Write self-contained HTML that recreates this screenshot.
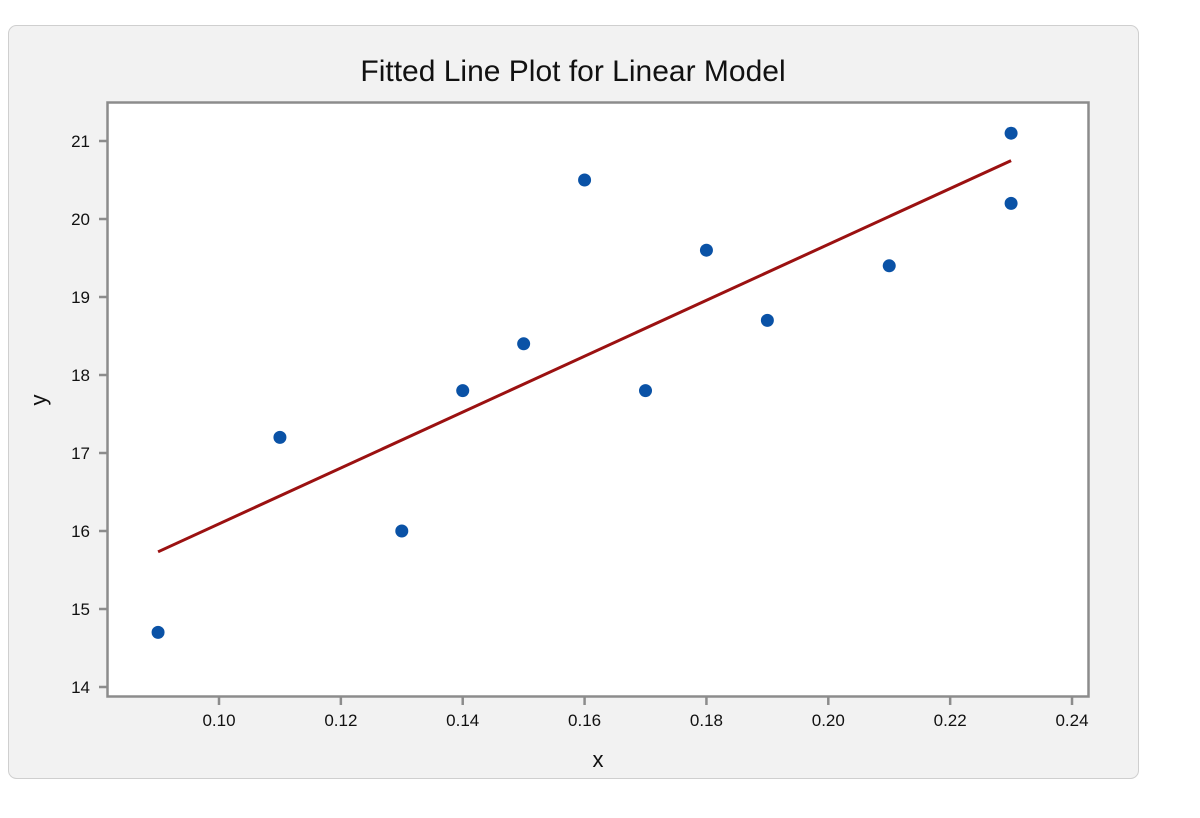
<!DOCTYPE html>
<html><head><meta charset="utf-8"><style>
html,body{margin:0;padding:0;background:#fff;width:1200px;height:818px;overflow:hidden}
svg text{font-family:"Liberation Sans",Arial,sans-serif;fill:#111}
</style></head><body>
<svg width="1200" height="818" xmlns="http://www.w3.org/2000/svg">
<rect x="8.5" y="25.5" width="1130" height="753" rx="8" fill="#f2f2f2" stroke="#cfcfcf"/>
<text x="573" y="81" font-size="30" text-anchor="middle">Fitted Line Plot for Linear Model</text>
<rect x="107.5" y="102.5" width="981" height="594" fill="#fff" stroke="#8c8c8c" stroke-width="2.5"/>
<g id="xt"></g>
<g id="yt"></g>
<g id="fit"></g>
<g id="pts"></g>
<text x="598" y="767" font-size="22" text-anchor="middle">x</text>
<text x="46" y="400" font-size="22" text-anchor="middle" transform="rotate(-90 46 400)">y</text>
</svg>
<script>
const xValues=[0.09,0.11,0.13,0.14,0.15,0.16,0.17,0.18,0.19,0.21,0.23,0.23];
const yValues=[14.7,17.2,16.0,17.8,18.4,20.5,17.8,19.6,18.7,19.4,21.1,20.2];
const xTicks=[0.10,0.12,0.14,0.16,0.18,0.20,0.22,0.24];
const yTicks=[14,15,16,17,18,19,20,21];
const NS="http://www.w3.org/2000/svg";
function sx(v){return 219+(v-0.10)/0.02*121.86;}
function sy(v){return 687-(v-14)*78;}
function mk(t,a,p){const e=document.createElementNS(NS,t);for(const k in a)e.setAttribute(k,a[k]);p.appendChild(e);return e;}
const xt=document.getElementById('xt'),yt=document.getElementById('yt');
xTicks.forEach(v=>{
 const l=mk('line',{x1:sx(v),x2:sx(v),y1:697,y2:705,stroke:'#8c8c8c','stroke-width':2.5},xt);
 
 
 const t=mk('text',{x:sx(v),y:726,'font-size':17,'text-anchor':'middle'},xt);
 t.textContent=v.toFixed(2);
 
 
});
yTicks.forEach(v=>{
 const l=mk('line',{x1:99,x2:107,y1:sy(v),y2:sy(v),stroke:'#8c8c8c','stroke-width':2.5},yt);
 
 
 const t=mk('text',{x:90,y:sy(v)+6,'font-size':17,'text-anchor':'end'},yt);
 t.textContent=v;
 
 
});
const n=xValues.length;
const mx=xValues.reduce((a,b)=>a+b)/n,my=yValues.reduce((a,b)=>a+b)/n;
let sxy=0,sxx=0;for(let i=0;i<n;i++){sxy+=(xValues[i]-mx)*(yValues[i]-my);sxx+=(xValues[i]-mx)**2;}
const b=sxy/sxx,a=my-b*mx;
const x0=Math.min(...xValues),x1=Math.max(...xValues);
const fl=mk('line',{x1:sx(x0),y1:sy(a+b*x0),x2:sx(x1),y2:sy(a+b*x1),stroke:'#9b1111','stroke-width':3},document.getElementById('fit'));


const pts=document.getElementById('pts');
for(let i=0;i<n;i++){
 const c=mk('circle',{cx:sx(xValues[i]),cy:sy(yValues[i]),r:6.5,fill:'#0a52a6'},pts);
 
 
}
</script>
</body></html>
